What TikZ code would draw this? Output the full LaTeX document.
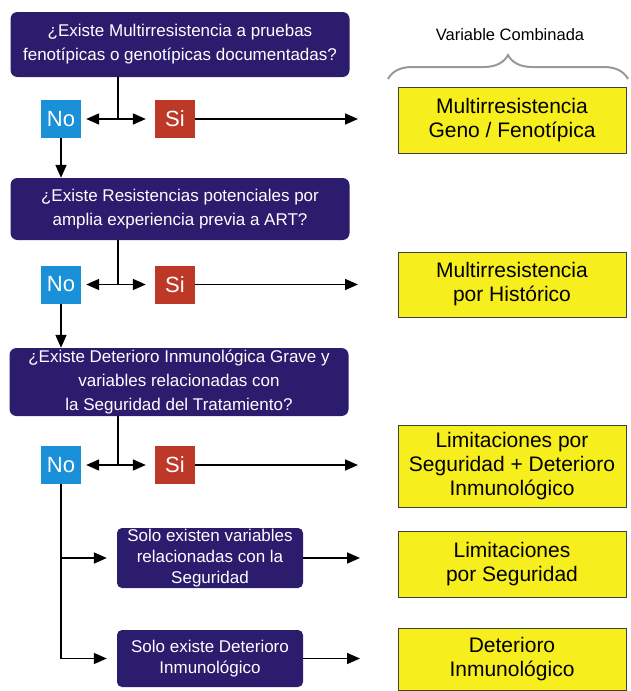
\documentclass[tikz,border=0pt]{standalone}
\usepackage{fontspec}
\setmainfont{Liberation Sans}
\usetikzlibrary{arrows.meta,decorations.pathreplacing}

\definecolor{qnavy}{RGB}{44,28,110}
\definecolor{noblue}{RGB}{26,144,216}
\definecolor{sired}{RGB}{190,56,40}
\definecolor{resyellow}{RGB}{247,238,30}

\begin{document}
\begin{tikzpicture}[x=1pt,y=-1pt,
  question/.style={fill=qnavy,rounded corners=7pt,text=white,align=center,
    font=\fontsize{17}{24}\selectfont,minimum width=339pt,inner sep=0pt},
  only/.style={fill=qnavy,rounded corners=5pt,text=white,align=center,
    font=\fontsize{17}{21}\selectfont,minimum width=186pt,inner sep=0pt},
  nobox/.style={fill=noblue,text=white,font=\fontsize{22}{24}\selectfont,
    minimum width=40pt,minimum height=38pt,inner sep=0pt},
  sibox/.style={nobox,fill=sired},
  result/.style={fill=resyellow,draw=black!75,line width=1pt,align=center,
    font=\fontsize{21}{24}\selectfont,minimum width=228pt,inner sep=0pt},
  arr/.style={line width=1.7pt,-{Triangle[length=13pt,width=11pt]}},
  link/.style={line width=1.7pt}]
  \useasboundingbox (0,0) rectangle (630,691);

  % questions
  \node[question,minimum height=65pt] (q1) at (180,44.5)
    {¿Existe Multirresistencia a pruebas\\fenotípicas o genotípicas documentadas?};
  \node[question,minimum height=62pt] (q2) at (180,209)
    {¿Existe Resistencias potenciales por\\amplia experiencia previa a ART?};
  \node[question,minimum height=68pt] (q3) at (179,382)
    {¿Existe Deterioro Inmunológica Grave y\\variables relacionadas con\\la Seguridad del Tratamiento?};

  % combined variable
  \node[font=\fontsize{16.5}{20}\selectfont] (combtitle) at (510,35) {Variable Combinada};
  \draw[black!40,line width=2pt,decorate,decoration={brace,amplitude=24pt,aspect=0.5}]
    (388,79) -- (628,79);

  \node[result,minimum height=66pt] (res1) at (512,120) {Multirresistencia\\Geno / Fenotípica};
  \node[result,minimum height=65pt] (res2) at (512,284.5) {Multirresistencia\\por Histórico};
  \node[result,minimum height=82pt] (res3) at (512,466) {Limitaciones por\\Seguridad + Deterioro\\Inmunológico};
  \node[result,minimum height=66pt] (res4) at (512,564) {Limitaciones\\por Seguridad};
  \node[result,minimum height=62pt] (res5) at (512,659) {Deterioro\\Inmunológico};

  % no / si rows
  \foreach \n/\y in {1/119,2/284.5,3/465}
  {
    \node[nobox] (no\n) at (61,\y) {No};
    \node[sibox] (si\n) at (175,\y) {Si};
    \coordinate (fork\n) at (118,\y);
    \coordinate (end\n) at (358,\y);
    \draw[link] (q\n.south -| fork\n) -- (fork\n);
    \draw[arr,shorten >=5pt] (fork\n) -- (no\n);
    \draw[arr,shorten >=9pt] (fork\n) -- (si\n);
    \draw[arr] (si\n) -- (end\n);
  }
  \draw[arr] (no1) -- (no1 |- q2.north);
  \draw[arr] (no2) -- (no2 |- q3.north);

  % only one of both
  \node[only,minimum height=60pt] (only1) at (210,558)
    {Solo existen variables\\relacionadas con la\\Seguridad};
  \node[only,minimum height=57pt] (only2) at (210,658.5)
    {Solo existe Deterioro\\Inmunológico};
  \draw[link] (no3.south) -- (no3.south |- only2.west);
  \draw[arr,shorten >=10pt] (no3.south |- only1.west) -- (only1.west);
  \draw[arr,shorten >=10pt] (no3.south |- only2.west) -- (only2.west);
  \coordinate (end4) at (360,558);
  \coordinate (end5) at (360,658.5);
  \draw[arr] (only1) -- (end4);
  \draw[arr] (only2) -- (end5);
\end{tikzpicture}
\end{document}
